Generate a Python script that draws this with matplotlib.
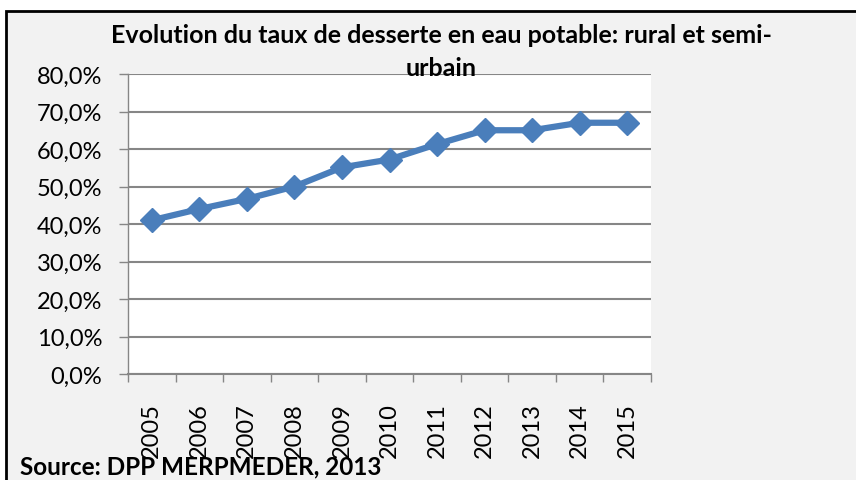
import matplotlib.pyplot as plt
from matplotlib.patches import Rectangle
from matplotlib.ticker import FuncFormatter

years = ["2005", "2006", "2007", "2008", "2009", "2010", "2011", "2012", "2013", "2014", "2015"]
taux = [41.0, 44.0, 46.7, 50.0, 55.1, 57.2, 61.3, 65.0, 65.0, 67.0, 67.0]

title = "Evolution du taux de desserte en eau potable: rural et semi-\nurbain"
source = "Source: DPP MERPMEDER, 2013"

W, H = 856, 481
fig = plt.figure(figsize=(W / 100, H / 100), dpi=100)
fig.patch.set_facecolor("white")

# chart frame (right and bottom edges fall outside the picture)
frame = Rectangle((6 / W, -0.1), 1.1, 1 - 12 / H + 0.1, transform=fig.transFigure,
                  facecolor="#f2f2f2", edgecolor="black", linewidth=2, zorder=-10)
fig.patches.append(frame)

ax = fig.add_axes([128 / W, 1 - 375 / H, (651 - 128) / W, (375 - 75) / H])
ax.set_facecolor("white")

x = list(range(len(years)))
ax.plot(x, taux, color="#4a7ebb", linewidth=4.5, marker="D", markersize=12,
        markeredgecolor="#4a7ebb", zorder=3, clip_on=False)

ax.set_xlim(-0.5, len(years) - 0.5)
ax.set_ylim(0, 80)
ax.set_yticks(range(0, 81, 10))
ax.yaxis.set_major_formatter(FuncFormatter(lambda v, p: f"{v:.1f}%".replace(".", ",")))
ax.grid(axis="y", color="#868686", linewidth=1.5)
ax.set_axisbelow(True)

# x ticks between categories, labels centered on categories
ax.set_xticks([i - 0.5 for i in range(len(years) + 1)])
ax.set_xticklabels([])
ax.set_xticks(x, minor=True)
ax.set_xticklabels(years, minor=True, rotation=90, fontsize=17, family="Lato")
ax.tick_params(axis="x", which="minor", length=0, pad=20)
ax.tick_params(axis="x", which="major", length=6, color="#868686", width=1)
ax.tick_params(axis="y", length=6.5, color="#868686", width=1, labelsize=17, pad=12)
for lab in ax.get_yticklabels():
    lab.set_family("Lato")

for side in ["top", "right"]:
    ax.spines[side].set_visible(False)
ax.spines["left"].set_color("#868686")
ax.spines["bottom"].set_color("#868686")
ax.spines["left"].set_linewidth(1)
ax.spines["bottom"].set_linewidth(1.5)

fig.text(441 / W, 1 - 24 / H, title, ha="center", va="top", fontsize=18,
         fontweight="bold", family="Lato", linespacing=1.55)
fig.text(20 / W, 1 - 467 / H, source, ha="left", va="center", fontsize=17.5,
         fontweight="bold", family="Lato")

fig.savefig("out.png", dpi=100, facecolor=fig.get_facecolor())
